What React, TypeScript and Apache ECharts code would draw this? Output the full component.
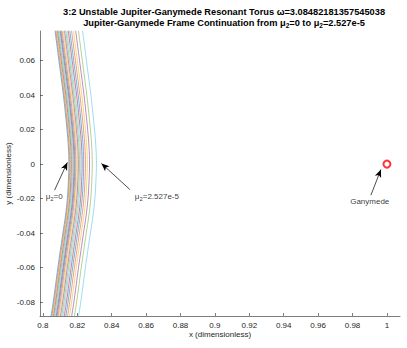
import React, { useEffect, useRef } from "react";
import * as echarts from "echarts";

// y levels at which each continuation curve was sampled
const yLevels = [0.08, 0.06, 0.04, 0.03, 0.02, 0.01, 0, -0.01, -0.02, -0.03, -0.04, -0.06, -0.08, -0.09];

// x values of each torus cross-section curve (continuation from mu2=0 to mu2=2.527e-5)
const curve01 = [0.8067, 0.8093, 0.8119, 0.813, 0.814, 0.8148, 0.8151, 0.8148, 0.8142, 0.8131, 0.8116, 0.8087, 0.806, 0.8044];
const curve02 = [0.8072, 0.8098, 0.8124, 0.8135, 0.8145, 0.8153, 0.8156, 0.8153, 0.8147, 0.8136, 0.8121, 0.8092, 0.8065, 0.8049];
const curve03 = [0.8076, 0.8102, 0.8128, 0.8139, 0.8149, 0.8157, 0.816, 0.8157, 0.8151, 0.814, 0.8125, 0.8096, 0.8069, 0.8053];
const curve04 = [0.8081, 0.8107, 0.8133, 0.8144, 0.8154, 0.8162, 0.8165, 0.8162, 0.8156, 0.8145, 0.813, 0.8101, 0.8074, 0.8058];
const curve05 = [0.8086, 0.8112, 0.8138, 0.8149, 0.8159, 0.8167, 0.817, 0.8167, 0.8161, 0.815, 0.8135, 0.8106, 0.8079, 0.8063];
const curve06 = [0.8091, 0.8117, 0.8143, 0.8154, 0.8164, 0.8172, 0.8175, 0.8172, 0.8166, 0.8155, 0.814, 0.8111, 0.8084, 0.8068];
const curve07 = [0.8097, 0.8123, 0.8149, 0.816, 0.817, 0.8178, 0.8181, 0.8178, 0.8172, 0.8161, 0.8146, 0.8117, 0.809, 0.8074];
const curve08 = [0.8102, 0.8128, 0.8154, 0.8165, 0.8175, 0.8183, 0.8186, 0.8183, 0.8177, 0.8166, 0.8151, 0.8122, 0.8095, 0.8079];
const curve09 = [0.8108, 0.8134, 0.816, 0.8171, 0.8181, 0.8189, 0.8192, 0.8189, 0.8183, 0.8172, 0.8157, 0.8128, 0.8101, 0.8085];
const curve10 = [0.8115, 0.8141, 0.8167, 0.8178, 0.8188, 0.8196, 0.8199, 0.8196, 0.819, 0.8179, 0.8164, 0.8135, 0.8108, 0.8092];
const curve11 = [0.8122, 0.8148, 0.8174, 0.8185, 0.8195, 0.8203, 0.8206, 0.8203, 0.8197, 0.8186, 0.8171, 0.8142, 0.8115, 0.8099];
const curve12 = [0.8129, 0.8155, 0.8181, 0.8192, 0.8202, 0.821, 0.8213, 0.821, 0.8204, 0.8193, 0.8178, 0.8149, 0.8122, 0.8106];
const curve13 = [0.8136, 0.8162, 0.8188, 0.8199, 0.8209, 0.8217, 0.822, 0.8217, 0.8211, 0.82, 0.8185, 0.8156, 0.8129, 0.8113];
const curve14 = [0.8144, 0.817, 0.8196, 0.8207, 0.8217, 0.8225, 0.8228, 0.8225, 0.8219, 0.8208, 0.8193, 0.8164, 0.8137, 0.8121];
const curve15 = [0.8153, 0.8179, 0.8205, 0.8216, 0.8226, 0.8234, 0.8237, 0.8234, 0.8228, 0.8217, 0.8202, 0.8173, 0.8146, 0.813];
const curve16 = [0.8163, 0.8189, 0.8215, 0.8226, 0.8236, 0.8244, 0.8247, 0.8244, 0.8238, 0.8227, 0.8212, 0.8183, 0.8156, 0.814];
const curve17 = [0.8174, 0.82, 0.8226, 0.8237, 0.8247, 0.8255, 0.8258, 0.8255, 0.8249, 0.8238, 0.8223, 0.8194, 0.8167, 0.8151];
const curve18 = [0.8187, 0.8213, 0.8239, 0.825, 0.826, 0.8268, 0.8271, 0.8268, 0.8262, 0.8251, 0.8236, 0.8207, 0.818, 0.8164];
const curve19 = [0.8203, 0.8229, 0.8255, 0.8266, 0.8276, 0.8284, 0.8287, 0.8284, 0.8278, 0.8267, 0.8252, 0.8223, 0.8196, 0.818];
const curve20 = [0.8227, 0.8253, 0.8279, 0.829, 0.83, 0.8308, 0.8311, 0.8308, 0.8302, 0.8291, 0.8276, 0.8247, 0.822, 0.8204];

const curves = [
  curve01, curve02, curve03, curve04, curve05, curve06, curve07, curve08, curve09, curve10,
  curve11, curve12, curve13, curve14, curve15, curve16, curve17, curve18, curve19, curve20,
];

const lineColors = ["#0072BD", "#D95319", "#EDB120", "#7E2F8E", "#77AC30", "#4DBEEE", "#A2142F"];

const xTicks = [0.8, 0.82, 0.84, 0.86, 0.88, 0.9, 0.92, 0.94, 0.96, 0.98, 1];
const yTicks = [-0.08, -0.06, -0.04, -0.02, 0, 0.02, 0.04, 0.06];
const xRange = [0.7983, 1.0076];
const yRange = [-0.0881, 0.0772];

const ganymede = [1, 0];

// annotation arrows: [tailX, tailY, headX, headY]
const arrows = [
  [0.8068, -0.0151, 0.8142, 0.001],
  [0.8505, -0.0147, 0.834, 0.0004],
  [0.9907, -0.018, 0.9965, -0.0031],
];

// annotation texts: [x, y, text, anchor]
const notes: [number, number, string, string][] = [
  [0.8016, -0.019, "μ{s|2}=0", "left"],
  [0.8534, -0.019, "μ{s|2}=2.527e-5", "left"],
  [0.99, -0.0219, "Ganymede", "center"],
];

const FONT = "'Liberation Sans', Arial, Helvetica, sans-serif";
const AX = "#262626";

export default function App() {
  const ref = useRef<HTMLDivElement>(null);
  useEffect(() => {
    if (!ref.current) return;
    const chart = echarts.init(ref.current, null, { renderer: "svg" });

    const curveSeries = curves.map((c, k) => ({
      type: "line",
      name: "curve" + (k + 1),
      data: yLevels.map((y, i) => [c[i], y]),
      smooth: 0.4,
      showSymbol: false,
      symbol: "none",
      clip: true,
      silent: true,
      lineStyle: { color: lineColors[k % lineColors.length], width: 0.55 },
      z: 2,
    }));

    const option: any = {
      animation: false,
      backgroundColor: "#fff",
      title: {
        left: 219,
        top: 1,
        textAlign: "center",
        text:
          "{b|3:2 Unstable Jupiter-Ganymede Resonant Torus ω=3.08482181357545038}\n" +
          "{b|Jupiter-Ganymede Frame Continuation from μ}{s|2}{b|=0 to μ}{s|2}{b|=2.527e-5}",
        textStyle: {
          fontFamily: FONT,
          fontSize: 9.25,
          fontWeight: "bold",
          color: "#000",
          lineHeight: 11,
          rich: {
            b: { fontFamily: FONT, fontSize: 9.25, fontWeight: "bold", color: "#000", lineHeight: 11 },
            s: { fontFamily: FONT, fontSize: 6.5, fontWeight: "bold", color: "#000", lineHeight: 11, padding: [5, 0, 0, 0] },
          },
        },
      },
      grid: { left: 40, right: 7, top: 31, bottom: 32, containLabel: false, outerBoundsMode: "none" },
      xAxis: {
        type: "value",
        min: xRange[0],
        max: xRange[1],
        name: "x (dimensionless)",
        nameLocation: "middle",
        nameGap: 14,
        nameMoveOverlap: false,
        nameTextStyle: { fontFamily: FONT, fontSize: 8, color: AX },
        axisLine: { show: true, onZero: false, lineStyle: { color: AX, width: 0.6 } },
        axisTick: { show: true, inside: true, length: 3, customValues: xTicks, lineStyle: { color: AX, width: 0.6 } },
        axisLabel: { customValues: xTicks, fontFamily: FONT, fontSize: 8, color: AX, margin: 5 },
        splitLine: { show: false },
      },
      yAxis: {
        type: "value",
        min: yRange[0],
        max: yRange[1],
        name: "y (dimensionless)",
        nameLocation: "middle",
        nameGap: 28,
        nameMoveOverlap: false,
        nameTextStyle: { fontFamily: FONT, fontSize: 8, color: AX },
        axisLine: { show: true, onZero: false, lineStyle: { color: AX, width: 0.6 } },
        axisTick: { show: true, inside: true, length: 3, customValues: yTicks, lineStyle: { color: AX, width: 0.6 } },
        axisLabel: { customValues: yTicks, fontFamily: FONT, fontSize: 8, color: AX, margin: 5 },
        splitLine: { show: false },
      },
      series: [
        ...curveSeries,
        {
          type: "scatter",
          name: "Ganymede",
          data: [ganymede],
          symbol: "circle",
          symbolSize: 7,
          itemStyle: { color: "rgba(0,0,0,0)", borderColor: "#FF0000", borderWidth: 2 },
          silent: true,
          z: 5,
        },
        {
          type: "scatter",
          name: "annotations",
          symbolSize: 0,
          silent: true,
          z: 6,
          data: notes.map((n) => ({
            value: [n[0], n[1]],
            label: {
              show: true,
              formatter: n[2],
              position: n[3] === "left" ? "right" : "inside",
              distance: 0,
              fontFamily: FONT,
              fontSize: 8,
              color: "#000",
              rich: {
                s: { fontFamily: FONT, fontSize: 6, color: "#000", padding: [5, 0, 0, 0] },
              },
            },
          })),
          markLine: {
            silent: true,
            symbol: ["none", "arrow"],
            symbolSize: [5, 8],
            label: { show: false },
            lineStyle: { color: "#000", width: 0.7, type: "solid" },
            data: arrows.map((a) => [
              { coord: [a[0], a[1]] },
              { coord: [a[2], a[3]] },
            ]),
          },
        },
      ],
    };
    chart.setOption(option);
    return () => chart.dispose();
  }, []);
  return (
    <div
      ref={ref}
      style={{ position: "absolute", left: 0, top: 0, width: 407, height: 348 }}
    />
  );
}
